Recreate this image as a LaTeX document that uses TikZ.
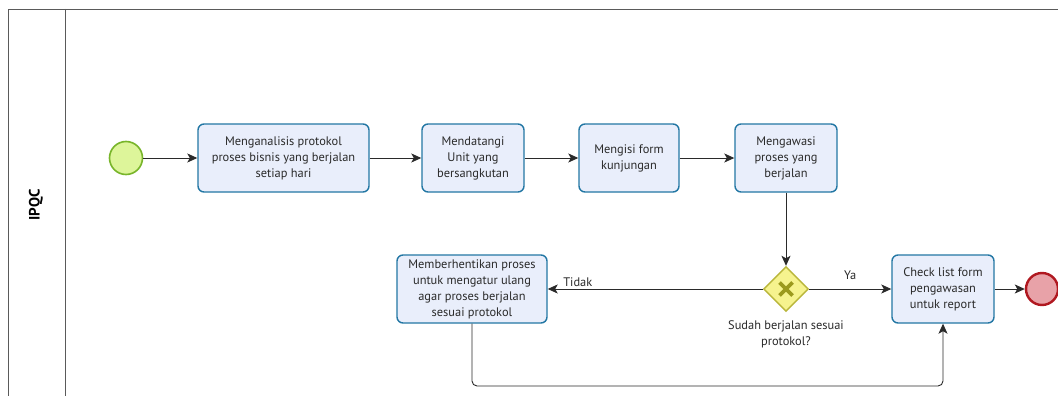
\documentclass[tikz,border=0pt]{standalone}
\usepackage{fontspec}
\setmainfont{PT Sans}
\usetikzlibrary{arrows.meta,shapes.geometric}

\definecolor{taskfill}{HTML}{E9EEFB}
\definecolor{taskline}{HTML}{2377A4}
\definecolor{startfill}{HTML}{DDF59A}
\definecolor{startline}{HTML}{78B52A}
\definecolor{endfill}{HTML}{E8A2A8}
\definecolor{endline}{HTML}{B01820}
\definecolor{gwfill}{HTML}{F6F38E}
\definecolor{gwline}{HTML}{B9B63A}
\definecolor{gwmark}{HTML}{9C9A1E}
\definecolor{txt}{HTML}{2A2A2A}
\definecolor{pool}{HTML}{5A5A5A}

\tikzset{
  taskbox/.style={rectangle, rounded corners=6pt, draw=taskline, fill=taskfill,
    line width=1.4pt, align=center, text=txt, inner sep=2pt,
    minimum height=68pt, font=\fontsize{12.4}{16}\selectfont},
  flow/.style={draw=txt, line width=0.9pt, -{Stealth[length=10pt,width=9pt,inset=2.5pt]}},
  lbl/.style={text=txt, font=\fontsize{12.4}{16}\selectfont, align=center, inner sep=1pt},
}

\begin{document}
\begin{tikzpicture}[x=1pt,y=-1pt]
\useasboundingbox (0,0) rectangle (1058,396);
\fill[white] (0,0) rectangle (1058,396);

% pool and lane
\draw[pool, line width=0.9pt] (8,396) -- (8,9) -- (1058,9);
\draw[pool, line width=0.9pt] (65,9) -- (65,396);
\node[rotate=90, text=black, font=\bfseries\fontsize{15}{17}\selectfont] (lane) at (36,205) {IPQC};

% events
\node[circle, draw=startline, fill=startfill, line width=1.6pt, minimum size=33pt, inner sep=0] (start) at (126,158) {};
\node[circle, draw=endline, fill=endfill, line width=2.4pt, minimum size=32pt, inner sep=0] (end) at (1042,289) {};

% activities
\node[taskbox, minimum width=171pt] (t1) at (283.5,158) {Menganalisis protokol\\proses bisnis yang berjalan\\setiap hari};
\node[taskbox, minimum width=102pt] (t2) at (473,158) {Mendatangi\\Unit yang\\bersangkutan};
\node[taskbox, minimum width=100pt] (t3) at (629,158) {Mengisi form\\kunjungan};
\node[taskbox, minimum width=102pt] (t4) at (786,158) {Mengawasi\\proses yang\\berjalan};
\node[taskbox, minimum width=150pt] (t5) at (472,289) {Memberhentikan proses\\untuk mengatur ulang\\agar proses berjalan\\sesuai protokol};
\node[taskbox, minimum width=102pt] (t6) at (943,289) {Check list form\\pengawasan\\untuk report};

% exclusive gateway
\node[diamond, aspect=1, draw=gwline, fill=gwfill, line width=1.4pt, minimum width=45pt, minimum height=45pt, inner sep=0,
  path picture={\draw[gwmark, line width=3.8pt] ([xshift=-6.5pt,yshift=-6.5pt]path picture bounding box.center) -- ([xshift=6.5pt,yshift=6.5pt]path picture bounding box.center)
  ([xshift=-6.5pt,yshift=6.5pt]path picture bounding box.center) -- ([xshift=6.5pt,yshift=-6.5pt]path picture bounding box.center);}] (gw) at (786,289) {};
\node[lbl] (gwlabel) at (786,334) {Sudah berjalan sesuai\\protokol?};

% sequence flows
\draw[flow] (start) -- (t1);
\draw[flow] (t1) -- (t2);
\draw[flow] (t2) -- (t3);
\draw[flow] (t3) -- (t4);
\draw[flow] (t4) -- (gw);
\draw[flow] (gw) -- node[lbl, pos=0.86, above=1pt] (no) {Tidak} (t5);
\draw[flow] (gw) -- node[lbl, pos=0.5, above=8pt] (yes) {Ya} (t6);
\draw[flow] (t6) -- (end);
\coordinate (loopy) at (0,386);
\draw[flow, rounded corners=5pt] (t5.south) -- (t5.south |- loopy) -| (t6.south);
\end{tikzpicture}
\end{document}
